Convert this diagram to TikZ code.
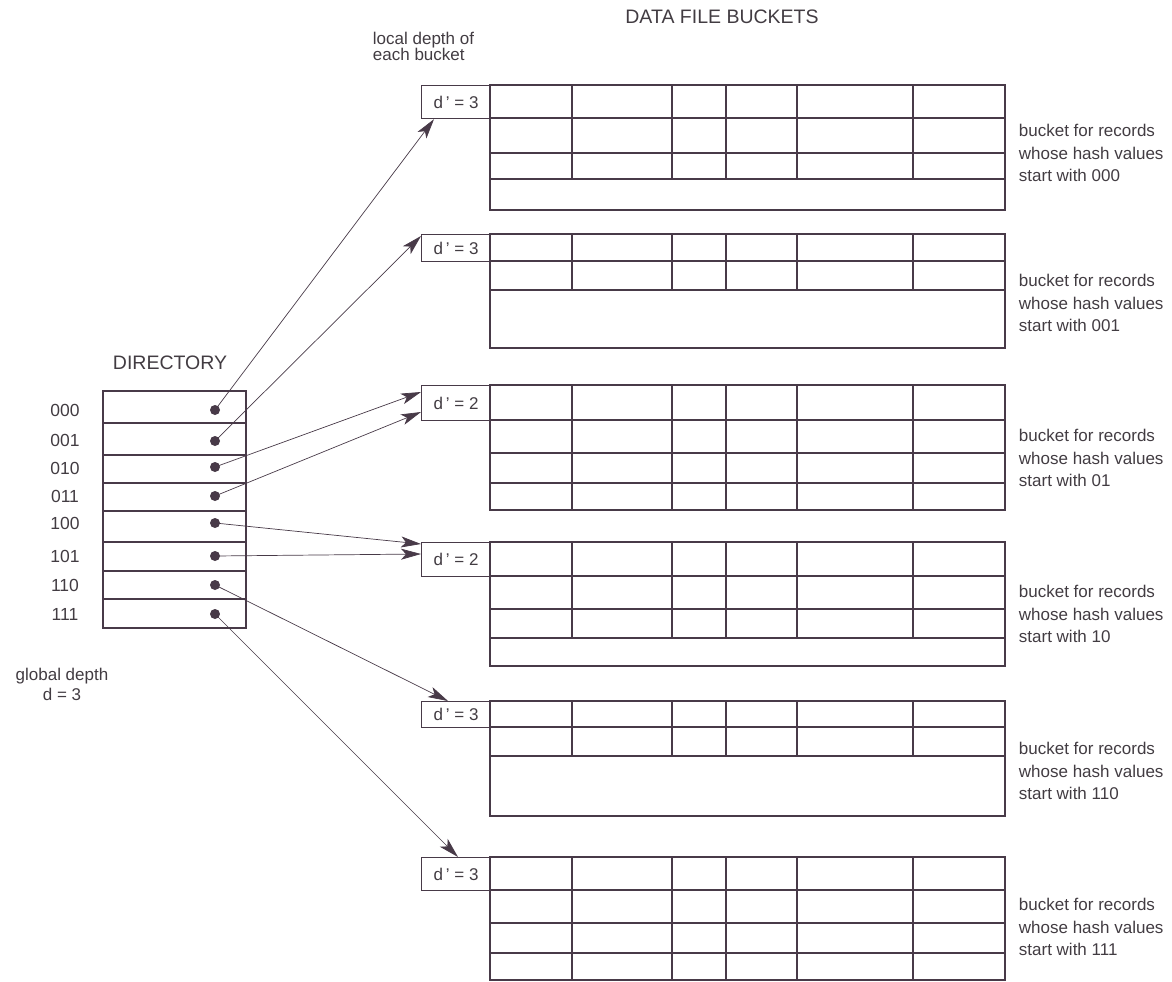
\documentclass[tikz,border=0pt]{standalone}
\usepackage{fontspec}
\setmainfont{Liberation Sans}
\usetikzlibrary{arrows.meta}
\definecolor{tablegray}{RGB}{72,58,72}
\definecolor{textgray}{RGB}{66,60,66}

\begin{document}
\begin{tikzpicture}[x=1pt, y=-1pt, line width=1.2pt, tablegray,
            depthbox/.style={draw=tablegray, anchor=north west, minimum width=69pt, inner sep=0pt,
                             text=textgray, font=\fontsize{17}{20}\selectfont},
            slot/.style={circle, fill=tablegray, minimum size=10pt, inner sep=0pt},
            bitlabel/.style={text=textgray, font=\fontsize{17.5}{20}\selectfont},
            title/.style={text=textgray, font=\fontsize{19.5}{22}\selectfont},
            note/.style={text=textgray, align=left, anchor=west, font=\fontsize{17}{22.5}\selectfont},
            ptr/.style={-{Stealth[length=20pt, width=11pt, inset=5pt]}, line width=0.7pt}]

        \useasboundingbox (0,0) rectangle (1172,982);

        %% titulos
        \node[title] (tdata) at (722,17) {DATA FILE BUCKETS};
        \node[title] (tdir) at (170,363) {DIRECTORY};
        \node[note, font=\fontsize{17}{16}\selectfont] (tlocal) at (369,46) {local depth of\\each bucket};
        \node[note, align=center, anchor=center, font=\fontsize{17}{20}\selectfont] (tglobal) at (62,684) {global depth\\d = 3};

        %% directorio
        \draw (103,391) rectangle (246,628);
        \foreach \y in {423,455,483,511,542,571,599}
            \draw (103,\y) -- (246,\y);

        \node[bitlabel] (k000) at (65,410) {000};
        \node[bitlabel] (k001) at (65,440) {001};
        \node[bitlabel] (k010) at (65,468) {010};
        \node[bitlabel] (k011) at (65,496) {011};
        \node[bitlabel] (k100) at (65,523) {100};
        \node[bitlabel] (k101) at (65,556) {101};
        \node[bitlabel] (k110) at (65,585) {110};
        \node[bitlabel] (k111) at (65,614) {111};

        \node[slot] (p0) at (215,410) {};
        \node[slot] (p1) at (215,441) {};
        \node[slot] (p2) at (215,467) {};
        \node[slot] (p3) at (215,496) {};
        \node[slot] (p4) at (215,523) {};
        \node[slot] (p5) at (215,556) {};
        \node[slot] (p6) at (215,585) {};
        \node[slot] (p7) at (215,614) {};

        %% cubetas
        \node[depthbox, minimum height=33pt] (D1) at (421,85) {d\,' = 3};
        \draw (490,85) rectangle (1005,210);
        \foreach \y in {118,153,179} \draw (490,\y) -- (1005,\y);
        \foreach \x in {572,672,726,797,913} \draw (\x,85) -- (\x,179);
        \node[note] (n1) at (1015,153) {bucket for records\\whose hash values\\start with 000};

        \node[depthbox, minimum height=27pt] (D2) at (421,234) {d\,' = 3};
        \draw (490,234) rectangle (1005,348);
        \foreach \y in {261,290} \draw (490,\y) -- (1005,\y);
        \foreach \x in {572,672,726,797,913} \draw (\x,234) -- (\x,290);
        \node[note] (n2) at (1015,303) {bucket for records\\whose hash values\\start with 001};

        \node[depthbox, minimum height=35pt] (D3) at (421,385) {d\,' = 2};
        \draw (490,385) rectangle (1005,510);
        \foreach \y in {420,453,483} \draw (490,\y) -- (1005,\y);
        \foreach \x in {572,672,726,797,913} \draw (\x,385) -- (\x,510);
        \node[note] (n3) at (1015,458) {bucket for records\\whose hash values\\start with 01};

        \node[depthbox, minimum height=34pt] (D4) at (421,542) {d\,' = 2};
        \draw (490,542) rectangle (1005,666);
        \foreach \y in {576,609,638} \draw (490,\y) -- (1005,\y);
        \foreach \x in {572,672,726,797,913} \draw (\x,542) -- (\x,638);
        \node[note] (n4) at (1015,614) {bucket for records\\whose hash values\\start with 10};

        \node[depthbox, minimum height=26pt] (D5) at (421,701) {d\,' = 3};
        \draw (490,701) rectangle (1005,816);
        \foreach \y in {727,756} \draw (490,\y) -- (1005,\y);
        \foreach \x in {572,672,726,797,913} \draw (\x,701) -- (\x,756);
        \node[note] (n5) at (1015,771) {bucket for records\\whose hash values\\start with 110};

        \node[depthbox, minimum height=33pt] (D6) at (421,857) {d\,' = 3};
        \draw (490,857) rectangle (1005,980);
        \foreach \y in {890,923,953} \draw (490,\y) -- (1005,\y);
        \foreach \x in {572,672,726,797,913} \draw (\x,857) -- (\x,980);
        \node[note] (n6) at (1015,927) {bucket for records\\whose hash values\\start with 111};

        %%--------------------------punteros-------------
        \path (p0.center) edge[ptr] ([xshift=13pt]D1.south west);
        \path (p1.center) edge[ptr] ([yshift=-2pt]D2.north west);
        \path (p2.center) edge[ptr] ([yshift=-7pt]D3.north west);
        \path (p3.center) edge[ptr] ([yshift=-27pt]D3.north west);
        \path (p4.center) edge[ptr] ([yshift=-2pt]D4.north west);
        \path (p5.center) edge[ptr] ([yshift=-12pt]D4.north west);
        \path (p6.center) edge[ptr] ([xshift=27pt]D5.north west);
        \path (p7.center) edge[ptr] ([xshift=37pt]D6.north west);

    \end{tikzpicture}
\end{document}
